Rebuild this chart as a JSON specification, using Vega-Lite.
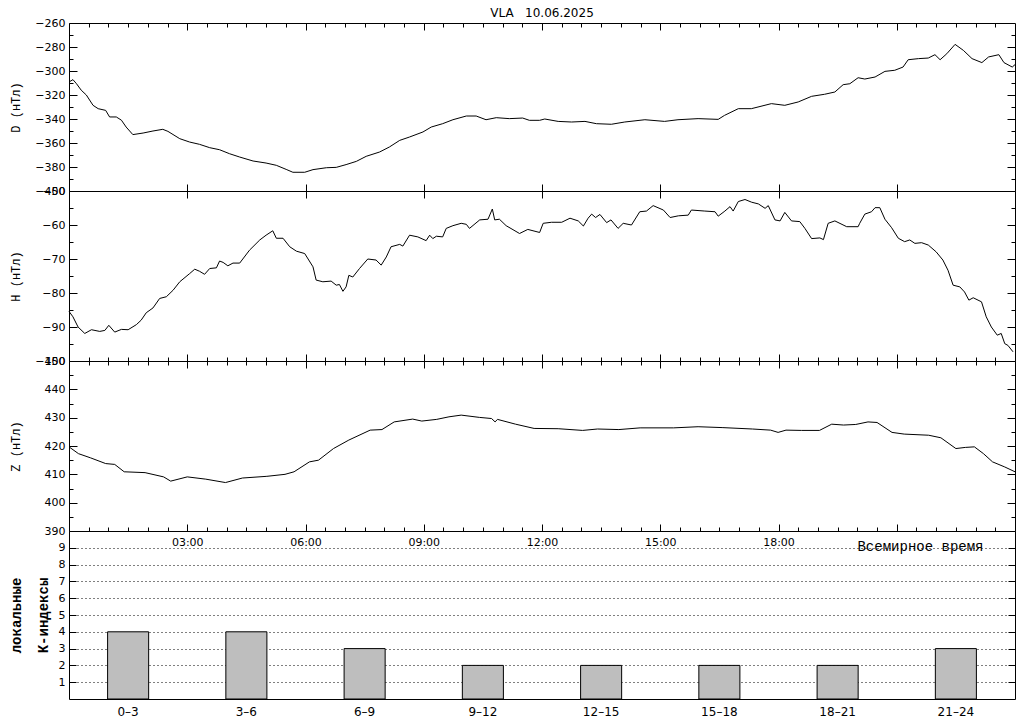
{
  "$schema": "https://vega.github.io/schema/vega-lite/v6.json",
  "background": "white",
  "padding": {"left": 8, "top": 6, "right": 6, "bottom": 2},
  "title": {"text": "VLA\u00a0\u00a0\u00a010.06.2025", "font": "DejaVu Sans", "fontSize": 12, "fontWeight": "normal", "color": "black", "frame": "group", "anchor": "middle", "baseline": "alphabetic", "offset": -12},
  "spacing": 0,
  "bounds": "flush",
  "datasets": {
    "D": [
      {"h":0,"v":-309.2},{"h":0.1,"v":-307.2},{"h":0.19,"v":-310.6},{"h":0.31,"v":-316},{"h":0.44,"v":-320},{"h":0.61,"v":-328.6},{"h":0.74,"v":-331.4},{"h":0.93,"v":-332.8},{"h":1.03,"v":-338.3},{"h":1.2,"v":-338.3},{"h":1.33,"v":-341},{"h":1.45,"v":-346.7},{"h":1.62,"v":-353},{"h":1.88,"v":-351.7},{"h":2.13,"v":-350},{"h":2.38,"v":-348.6},{"h":2.51,"v":-350.3},{"h":2.81,"v":-356.4},{"h":3.06,"v":-359.2},{"h":3.31,"v":-361.1},{"h":3.57,"v":-363.9},{"h":3.82,"v":-365.6},{"h":4.07,"v":-368.9},{"h":4.33,"v":-371.7},{"h":4.67,"v":-375},{"h":5.0,"v":-376.7},{"h":5.26,"v":-378.6},{"h":5.51,"v":-382},{"h":5.68,"v":-384.4},{"h":5.98,"v":-384.4},{"h":6.19,"v":-382.2},{"h":6.53,"v":-380.6},{"h":6.78,"v":-380.3},{"h":7.03,"v":-378},{"h":7.29,"v":-375.3},{"h":7.54,"v":-371.1},{"h":7.88,"v":-367.5},{"h":8.13,"v":-363.3},{"h":8.39,"v":-357.8},{"h":8.64,"v":-355},{"h":8.98,"v":-350.8},{"h":9.19,"v":-346.7},{"h":9.48,"v":-343.9},{"h":9.74,"v":-340.6},{"h":10.08,"v":-337.5},{"h":10.33,"v":-337.5},{"h":10.58,"v":-340.6},{"h":10.84,"v":-338.9},{"h":11.17,"v":-339.7},{"h":11.51,"v":-339.2},{"h":11.68,"v":-341.1},{"h":11.94,"v":-341.1},{"h":12.07,"v":-340},{"h":12.41,"v":-342},{"h":12.75,"v":-342.5},{"h":13.09,"v":-342},{"h":13.38,"v":-343.9},{"h":13.76,"v":-344.4},{"h":14.1,"v":-342.5},{"h":14.61,"v":-340.6},{"h":15.11,"v":-342},{"h":15.45,"v":-340.6},{"h":15.96,"v":-339.7},{"h":16.47,"v":-340.3},{"h":16.63,"v":-337},{"h":16.98,"v":-331.4},{"h":17.31,"v":-331.4},{"h":17.48,"v":-330},{"h":17.82,"v":-327.2},{"h":18.16,"v":-328.6},{"h":18.5,"v":-325.8},{"h":18.84,"v":-321.1},{"h":19.17,"v":-319.4},{"h":19.43,"v":-317.5},{"h":19.64,"v":-311.4},{"h":19.81,"v":-310.6},{"h":20.02,"v":-305.6},{"h":20.19,"v":-306.7},{"h":20.45,"v":-305},{"h":20.7,"v":-300.3},{"h":20.95,"v":-299.4},{"h":21.16,"v":-296.7},{"h":21.29,"v":-290.6},{"h":21.55,"v":-289.7},{"h":21.8,"v":-289.2},{"h":21.97,"v":-286.4},{"h":22.1,"v":-290.6},{"h":22.27,"v":-285.6},{"h":22.48,"v":-277.8},{"h":22.69,"v":-282.8},{"h":22.91,"v":-289.7},{"h":23.16,"v":-293},{"h":23.33,"v":-288.3},{"h":23.59,"v":-286.4},{"h":23.72,"v":-293},{"h":23.93,"v":-296.7},{"h":24.0,"v":-294.7}
    ],
    "H": [
      {"h":0,"v":-85.4},{"h":0.1,"v":-87},{"h":0.23,"v":-90},{"h":0.4,"v":-91.9},{"h":0.57,"v":-90.8},{"h":0.78,"v":-91.3},{"h":0.91,"v":-91},{"h":1.01,"v":-89.5},{"h":1.16,"v":-91.5},{"h":1.33,"v":-90.7},{"h":1.5,"v":-90.8},{"h":1.71,"v":-89.3},{"h":1.83,"v":-88},{"h":1.96,"v":-85.8},{"h":2.13,"v":-84.4},{"h":2.3,"v":-81.6},{"h":2.47,"v":-81.1},{"h":2.64,"v":-79.2},{"h":2.81,"v":-76.7},{"h":3.06,"v":-74.3},{"h":3.19,"v":-73},{"h":3.31,"v":-73.6},{"h":3.44,"v":-74.5},{"h":3.57,"v":-72.8},{"h":3.74,"v":-72.6},{"h":3.82,"v":-70.6},{"h":3.91,"v":-71},{"h":4.03,"v":-72},{"h":4.16,"v":-71.2},{"h":4.33,"v":-71.2},{"h":4.58,"v":-67.4},{"h":4.84,"v":-64.4},{"h":5.0,"v":-63},{"h":5.17,"v":-61.7},{"h":5.26,"v":-63.9},{"h":5.43,"v":-63.9},{"h":5.6,"v":-66.4},{"h":5.77,"v":-67.7},{"h":5.98,"v":-68.4},{"h":6.19,"v":-72.3},{"h":6.27,"v":-76.2},{"h":6.44,"v":-76.7},{"h":6.65,"v":-76.5},{"h":6.78,"v":-77.7},{"h":6.86,"v":-77.5},{"h":6.95,"v":-79.5},{"h":7.03,"v":-78.2},{"h":7.1,"v":-74.8},{"h":7.2,"v":-75.3},{"h":7.37,"v":-72.8},{"h":7.58,"v":-70},{"h":7.79,"v":-70.3},{"h":7.92,"v":-71.8},{"h":8.05,"v":-69.4},{"h":8.17,"v":-66.4},{"h":8.39,"v":-65.7},{"h":8.47,"v":-66.2},{"h":8.64,"v":-63},{"h":8.85,"v":-63.5},{"h":9.06,"v":-64.6},{"h":9.15,"v":-63},{"h":9.23,"v":-64},{"h":9.32,"v":-63.3},{"h":9.48,"v":-63.5},{"h":9.57,"v":-61},{"h":9.74,"v":-60.2},{"h":9.95,"v":-59.5},{"h":10.08,"v":-59.8},{"h":10.16,"v":-61},{"h":10.42,"v":-58.5},{"h":10.63,"v":-58.3},{"h":10.74,"v":-55.3},{"h":10.8,"v":-58.5},{"h":10.92,"v":-58.3},{"h":11.09,"v":-60.2},{"h":11.43,"v":-62.5},{"h":11.64,"v":-61.3},{"h":11.94,"v":-62.2},{"h":12.03,"v":-59.5},{"h":12.24,"v":-59.2},{"h":12.5,"v":-59.2},{"h":12.71,"v":-58},{"h":12.92,"v":-58.8},{"h":13.05,"v":-60.3},{"h":13.17,"v":-58},{"h":13.26,"v":-56.8},{"h":13.36,"v":-57.8},{"h":13.47,"v":-56.9},{"h":13.64,"v":-59.3},{"h":13.75,"v":-58.5},{"h":13.93,"v":-61},{"h":14.06,"v":-59.5},{"h":14.27,"v":-60},{"h":14.48,"v":-56.1},{"h":14.65,"v":-55.9},{"h":14.82,"v":-54.3},{"h":15.08,"v":-55.6},{"h":15.25,"v":-57.8},{"h":15.46,"v":-57.3},{"h":15.71,"v":-57.1},{"h":15.79,"v":-55.6},{"h":16.13,"v":-55.9},{"h":16.39,"v":-56.1},{"h":16.47,"v":-57.4},{"h":16.64,"v":-55.9},{"h":16.77,"v":-54.6},{"h":16.85,"v":-55.9},{"h":16.98,"v":-53.1},{"h":17.15,"v":-52.5},{"h":17.32,"v":-53.3},{"h":17.49,"v":-53.8},{"h":17.66,"v":-55.1},{"h":17.74,"v":-54.3},{"h":17.91,"v":-58.5},{"h":18.04,"v":-58.8},{"h":18.16,"v":-56.3},{"h":18.33,"v":-58.8},{"h":18.54,"v":-59},{"h":18.67,"v":-61},{"h":18.84,"v":-64},{"h":19.05,"v":-63.8},{"h":19.14,"v":-64.3},{"h":19.26,"v":-59.5},{"h":19.43,"v":-58.8},{"h":19.73,"v":-60.5},{"h":20.02,"v":-60.5},{"h":20.06,"v":-59.5},{"h":20.19,"v":-56.8},{"h":20.36,"v":-56.1},{"h":20.45,"v":-54.9},{"h":20.57,"v":-54.9},{"h":20.7,"v":-58.3},{"h":20.87,"v":-60.8},{"h":21.04,"v":-63.9},{"h":21.2,"v":-64.9},{"h":21.33,"v":-64.4},{"h":21.46,"v":-65.4},{"h":21.63,"v":-65.2},{"h":21.8,"v":-65.9},{"h":22.0,"v":-67.9},{"h":22.17,"v":-70.3},{"h":22.3,"v":-73.3},{"h":22.43,"v":-77.7},{"h":22.6,"v":-78.2},{"h":22.72,"v":-79.7},{"h":22.83,"v":-82.1},{"h":22.94,"v":-81.4},{"h":23.15,"v":-82.6},{"h":23.27,"v":-87},{"h":23.4,"v":-90},{"h":23.55,"v":-92.4},{"h":23.65,"v":-91.9},{"h":23.74,"v":-94.9},{"h":23.82,"v":-95.4},{"h":23.95,"v":-97.3}
    ],
    "Z": [
      {"h":0,"v":419.7},{"h":0.24,"v":417.3},{"h":0.55,"v":415.8},{"h":0.93,"v":413.8},{"h":1.16,"v":413.5},{"h":1.4,"v":410.9},{"h":1.93,"v":410.6},{"h":2.4,"v":409.1},{"h":2.58,"v":407.6},{"h":3.0,"v":409.1},{"h":3.47,"v":408.3},{"h":3.97,"v":407.1},{"h":4.4,"v":408.7},{"h":5.02,"v":409.3},{"h":5.48,"v":410},{"h":5.71,"v":410.9},{"h":6.1,"v":414.4},{"h":6.33,"v":415},{"h":6.71,"v":419.1},{"h":7.1,"v":422.1},{"h":7.64,"v":425.6},{"h":7.94,"v":425.8},{"h":8.25,"v":428.5},{"h":8.72,"v":429.5},{"h":8.95,"v":428.8},{"h":9.33,"v":429.4},{"h":9.64,"v":430.3},{"h":9.95,"v":430.9},{"h":10.41,"v":430.1},{"h":10.72,"v":429.7},{"h":10.81,"v":428.5},{"h":10.87,"v":429.4},{"h":11.33,"v":427.7},{"h":11.8,"v":426.2},{"h":12.41,"v":426.1},{"h":13.03,"v":425.5},{"h":13.41,"v":426},{"h":13.95,"v":425.8},{"h":14.49,"v":426.4},{"h":15.34,"v":426.4},{"h":15.96,"v":426.8},{"h":16.57,"v":426.5},{"h":17.34,"v":426},{"h":17.8,"v":425.6},{"h":17.99,"v":424.8},{"h":18.19,"v":425.6},{"h":18.58,"v":425.5},{"h":19.04,"v":425.5},{"h":19.35,"v":427.7},{"h":19.65,"v":427.4},{"h":19.96,"v":427.6},{"h":20.27,"v":428.5},{"h":20.5,"v":428.3},{"h":20.88,"v":424.8},{"h":21.19,"v":424.2},{"h":21.81,"v":423.8},{"h":22.12,"v":422.9},{"h":22.5,"v":419.1},{"h":22.74,"v":419.5},{"h":22.97,"v":419.7},{"h":23.2,"v":417.3},{"h":23.43,"v":414.4},{"h":23.74,"v":412.6},{"h":24.0,"v":410.9}
    ],
    "K": [
      {"i":"0–3","k":4},{"i":"3–6","k":4},{"i":"6–9","k":3},{"i":"9–12","k":2},{"i":"12–15","k":2},{"i":"15–18","k":2},{"i":"18–21","k":2},{"i":"21–24","k":3}
    ]
  },
  "vconcat": [
    {
      "width": 946, "height": 168,
      "data": {"name": "D"},
      "layer": [
        {"mark": {"type": "line", "color": "black", "strokeWidth": 1},
         "encoding": {
           "x": {"field": "h", "type": "quantitative", "scale": {"domain": [0, 24], "nice": false, "zero": false},
                 "axis": {"orient": "bottom", "values": [3,6,9,12,15,18,21], "tickSize": -7, "labels": false, "title": null}},
           "y": {"field": "v", "type": "quantitative", "scale": {"domain": [-400, -260], "nice": false, "zero": false},
                 "axis": {"orient": "left", "values": [-400,-380,-360,-340,-320,-300,-280,-260], "tickSize": -8, "labelPadding": 12, "title": "D (нТл)", "titleX": -47}}
         }},
        {"mark": {"type": "line", "opacity": 0},
         "encoding": {
           "x": {"field": "h", "type": "quantitative", "scale": {"domain": [0, 24], "nice": false, "zero": false},
                 "axis": {"orient": "top", "values": [0.5,1,1.5,2,2.5,3,3.5,4,4.5,5,5.5,6,6.5,7,7.5,8,8.5,9,9.5,10,10.5,11,11.5,12,12.5,13,13.5,14,14.5,15,15.5,16,16.5,17,17.5,18,18.5,19,19.5,20,20.5,21,21.5,22,22.5,23,23.5], "tickSize": {"condition": {"test": "datum.value % 3 === 0", "value": -7}, "value": -4}, "labels": false, "title": null}},
           "y": {"field": "v", "type": "quantitative", "scale": {"domain": [-400, -260], "nice": false, "zero": false},
                 "axis": {"orient": "right", "values": [-390,-380,-370,-360,-350,-340,-330,-320,-310,-300,-290,-280,-270], "tickSize": {"condition": {"test": "datum.value % 20 === 0", "value": -8}, "value": -4}, "labels": false, "title": null}}
         }},
        {"mark": {"type": "line", "opacity": 0},
         "encoding": {
           "x": {"field": "h", "type": "quantitative", "scale": {"domain": [0, 24], "nice": false, "zero": false}, "axis": null},
           "y": {"field": "v", "type": "quantitative", "scale": {"domain": [-400, -260], "nice": false, "zero": false},
                 "axis": {"orient": "left", "values": [-390,-370,-350,-330,-310,-290,-270], "tickSize": -4, "labels": false, "title": null}}
         }}
      ],
      "resolve": {"axis": {"x": "independent", "y": "independent"}}
    },
    {
      "width": 946, "height": 170,
      "data": {"name": "H"},
      "layer": [
        {"mark": {"type": "line", "color": "black", "strokeWidth": 1},
         "encoding": {
           "x": {"field": "h", "type": "quantitative", "scale": {"domain": [0, 24], "nice": false, "zero": false},
                 "axis": {"orient": "bottom", "values": [0.5,1,1.5,2,2.5,3,3.5,4,4.5,5,5.5,6,6.5,7,7.5,8,8.5,9,9.5,10,10.5,11,11.5,12,12.5,13,13.5,14,14.5,15,15.5,16,16.5,17,17.5,18,18.5,19,19.5,20,20.5,21,21.5,22,22.5,23,23.5], "tickSize": {"condition": {"test": "datum.value % 3 === 0", "value": -7}, "value": -4}, "labels": false, "title": null}},
           "y": {"field": "v", "type": "quantitative", "scale": {"domain": [-100, -50], "nice": false, "zero": false},
                 "axis": {"orient": "left", "values": [-100,-90,-80,-70,-60,-50], "tickSize": -8, "labelPadding": 12, "title": "H (нТл)", "titleX": -47}}
         }},
        {"mark": {"type": "line", "opacity": 0},
         "encoding": {
           "x": {"field": "h", "type": "quantitative", "scale": {"domain": [0, 24], "nice": false, "zero": false},
                 "axis": {"orient": "top", "values": [3,6,9,12,15,18,21], "tickSize": -7, "labels": false, "title": null}},
           "y": {"field": "v", "type": "quantitative", "scale": {"domain": [-100, -50], "nice": false, "zero": false},
                 "axis": {"orient": "right", "values": [-95,-90,-85,-80,-75,-70,-65,-60,-55], "tickSize": {"condition": {"test": "datum.value % 10 === 0", "value": -8}, "value": -4}, "labels": false, "title": null}}
         }},
        {"mark": {"type": "line", "opacity": 0},
         "encoding": {
           "x": {"field": "h", "type": "quantitative", "scale": {"domain": [0, 24], "nice": false, "zero": false}, "axis": null},
           "y": {"field": "v", "type": "quantitative", "scale": {"domain": [-100, -50], "nice": false, "zero": false},
                 "axis": {"orient": "left", "values": [-95,-85,-75,-65,-55], "tickSize": -4, "labels": false, "title": null}}
         }}
      ],
      "resolve": {"axis": {"x": "independent", "y": "independent"}}
    },
    {
      "width": 946, "height": 170,
      "data": {"name": "Z"},
      "layer": [
        {"mark": {"type": "line", "color": "black", "strokeWidth": 1},
         "encoding": {
           "x": {"field": "h", "type": "quantitative", "scale": {"domain": [0, 24], "nice": false, "zero": false},
                 "axis": {"orient": "bottom", "values": [0.5,1,1.5,2,2.5,3,3.5,4,4.5,5,5.5,6,6.5,7,7.5,8,8.5,9,9.5,10,10.5,11,11.5,12,12.5,13,13.5,14,14.5,15,15.5,16,16.5,17,17.5,18,18.5,19,19.5,20,20.5,21,21.5,22,22.5,23,23.5], "tickSize": {"condition": {"test": "datum.value % 3 === 0", "value": -7}, "value": -4}, "labelPadding": 12, "labelExpr": "datum.value % 3 === 0 && datum.value < 20 ? (datum.value < 10 ? '0' : '') + datum.value + ':00' : ''", "title": "Всемирное время", "titleX": 914, "titleY": 19.5, "titleAlign": "right", "titleBaseline": "alphabetic", "titleFont": "Liberation Mono", "titleFontSize": 14}},
           "y": {"field": "v", "type": "quantitative", "scale": {"domain": [390, 450], "nice": false, "zero": false},
                 "axis": {"orient": "left", "values": [390,400,410,420,430,440,450], "tickSize": -8, "labelPadding": 12, "title": "Z (нТл)", "titleX": -47}}
         }},
        {"mark": {"type": "line", "opacity": 0},
         "encoding": {
           "x": {"field": "h", "type": "quantitative", "scale": {"domain": [0, 24], "nice": false, "zero": false},
                 "axis": {"orient": "top", "values": [0.5,1,1.5,2,2.5,3,3.5,4,4.5,5,5.5,6,6.5,7,7.5,8,8.5,9,9.5,10,10.5,11,11.5,12,12.5,13,13.5,14,14.5,15,15.5,16,16.5,17,17.5,18,18.5,19,19.5,20,20.5,21,21.5,22,22.5,23,23.5], "tickSize": {"condition": {"test": "datum.value % 3 === 0", "value": -7}, "value": -4}, "labels": false, "title": null}},
           "y": {"field": "v", "type": "quantitative", "scale": {"domain": [390, 450], "nice": false, "zero": false},
                 "axis": {"orient": "right", "values": [395,400,405,410,415,420,425,430,435,440,445], "tickSize": {"condition": {"test": "datum.value % 10 === 0", "value": -8}, "value": -4}, "labels": false, "title": null}}
         }},
        {"mark": {"type": "line", "opacity": 0},
         "encoding": {
           "x": {"field": "h", "type": "quantitative", "scale": {"domain": [0, 24], "nice": false, "zero": false}, "axis": null},
           "y": {"field": "v", "type": "quantitative", "scale": {"domain": [390, 450], "nice": false, "zero": false},
                 "axis": {"orient": "left", "values": [395,405,415,425,435,445], "tickSize": -4, "labels": false, "title": null}}
         }}
      ],
      "resolve": {"axis": {"x": "independent", "y": "independent"}}
    },
    {
      "width": 946, "height": 168,
      "data": {"name": "K"},
      "layer": [
        {"mark": {"type": "bar", "fill": "#bebebe", "stroke": "black", "strokeWidth": 1},
         "encoding": {
           "x": {"field": "i", "type": "ordinal", "sort": null, "scale": {"paddingInner": 0.653, "paddingOuter": 0.3265},
                 "axis": {"orient": "bottom", "ticks": false, "labelPadding": 7, "labelAngle": 0, "labelFontSize": 12, "title": null}},
           "y": {"field": "k", "type": "quantitative", "scale": {"domain": [0, 10], "nice": false},
                 "axis": {"orient": "left", "values": [1,2,3,4,5,6,7,8,9], "tickSize": -7, "labelPadding": 11, "grid": true, "gridDash": [1, 3], "gridColor": "black", "gridWidth": 1, "title": ["локальные", "К-индексы"], "titleX": -46, "titleLineHeight": 27, "titleFont": "Liberation Mono", "titleFontWeight": "bold", "titleFontSize": 14}}
         }},
        {"mark": {"type": "bar", "opacity": 0},
         "encoding": {
           "x": {"field": "i", "type": "ordinal", "sort": null, "scale": {"paddingInner": 0.653, "paddingOuter": 0.3265}, "axis": null},
           "y": {"field": "k", "type": "quantitative", "scale": {"domain": [0, 10], "nice": false},
                 "axis": {"orient": "right", "values": [1,2,3,4,5,6,7,8,9], "tickSize": -7, "labels": false, "title": null}}
         }}
      ],
      "resolve": {"axis": {"x": "independent", "y": "independent"}}
    }
  ],
  "config": {
    "view": {"stroke": "black", "strokeWidth": 1},
    "axis": {"domain": false, "grid": false, "minExtent": 0, "tickColor": "black", "tickWidth": 1, "labelColor": "black", "labelFont": "DejaVu Sans", "labelFontSize": 11, "labelFlush": false, "labelOverlap": false, "titleColor": "black", "titleFont": "Liberation Mono", "titleFontSize": 12, "titleFontWeight": "normal"}
  }
}
